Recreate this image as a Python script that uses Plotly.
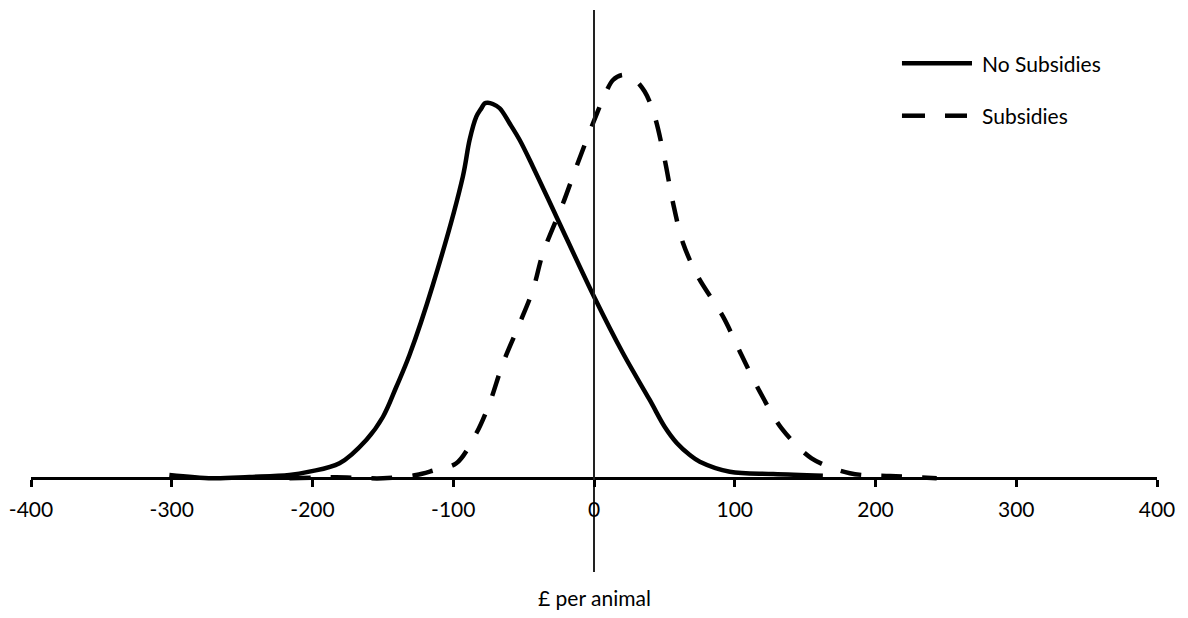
import plotly.graph_objects as go

# ---- data (x in £ per animal, y = density) ----
no_sub_x = [-301.7, -271.1, -244.8, -216.4, -202.2, -180.8, -161.8, -150.0, -140.5,
            -131.1, -114.5, -93.2, -88.4, -83.6, -80.0, -77.7, -75.4, -71.9, -67.0,
            -60.0, -52.8, -43.4, -26.7, 0.5, 20.6, 39.6, 50.3, 58.8, 68.1, 75.2,
            96.5, 127.3, 162.6]
no_sub_y = [0.000064, -0.00002, 0.000013, 0.000064, 0.00015, 0.000365, 0.000963,
            0.001553, 0.002323, 0.003144, 0.004941, 0.007721, 0.008663, 0.009261,
            0.009478, 0.009606, 0.00962, 0.009588, 0.009478, 0.009092, 0.008663,
            0.007978, 0.006695, 0.004607, 0.003188, 0.00199, 0.001296, 0.000886,
            0.000578, 0.000406, 0.000149, 0.00009, 0.000046]

sub_x = [-216.4, -183.2, -150.0, -126.3, -114.5, -97.8, -83.6, -74.2, -64.7, -52.8,
         -43.4, -36.3, -22.0, -12.5, -0.7, 7.6, 13.5, 20.0, 26.6, 36.1, 43.2, 50.3,
         56.2, 63.3, 73.9, 91.7, 104.8, 117.8, 133.3, 154.6, 181.8, 210.3, 243.5]
sub_y = [-0.00002, 0.000005, -0.00002, 0.000064, 0.000175, 0.000365, 0.001135,
         0.001905, 0.002931, 0.003958, 0.004813, 0.005755, 0.007038, 0.007978,
         0.009092, 0.009818, 0.010203, 0.010332, 0.010288, 0.009903, 0.009261,
         0.00815, 0.007038, 0.006012, 0.005155, 0.004128, 0.003144, 0.002203,
         0.001263, 0.000493, 0.000108, 0.000039, -0.00002]

tick_vals = [-400, -300, -200, -100, 0, 100, 200, 300, 400]
tick_text = ["-400", "-300", "-200", "-100", "0", "100", "200", "300", "400"]
series_names = ["No Subsidies", "Subsidies"]

Y_MAX = 0.012
Y_MIN = -Y_MAX * 94.5 / 467.5
FONT = "Lato"
FS = 21

fig = go.Figure()
fig.add_trace(go.Scatter(x=no_sub_x, y=no_sub_y, mode="lines", name=series_names[0],
                         line=dict(color="black", width=4.5, shape="spline", smoothing=1.0),
                         showlegend=False))
fig.add_trace(go.Scatter(x=sub_x, y=sub_y, mode="lines", name=series_names[1],
                         line=dict(color="black", width=4.5, shape="spline", smoothing=0.9,
                                   dash="21px,20px"),
                         showlegend=False))

zero_frac = (0 - Y_MIN) / (Y_MAX - Y_MIN)

fig.update_layout(
    width=1188, height=618,
    margin=dict(l=31, r=31, t=10, b=46),
    paper_bgcolor="white", plot_bgcolor="white",
    font=dict(family=FONT, size=FS, color="black"),
    xaxis=dict(range=[-400, 400], tickvals=tick_vals, ticktext=tick_text,
               showgrid=False, zeroline=False, showline=True, linecolor="black",
               linewidth=3, ticks="outside", ticklen=7, tickwidth=3, tickcolor="black",
               ticklabelstandoff=5,
               anchor="free", position=zero_frac,
               tickfont=dict(family=FONT, size=FS, color="black")),
    yaxis=dict(range=[Y_MIN, Y_MAX], showgrid=False, zeroline=False, showline=True,
               linecolor="#222222", linewidth=1.5, showticklabels=False, ticks="",
               anchor="free", position=0.5),
)

# x axis title below plot area
fig.add_annotation(text="£ per animal", xref="paper", yref="paper", x=0.5, y=-0.0445,
                   xanchor="center", yanchor="middle", showarrow=False,
                   font=dict(family=FONT, size=FS, color="black"))

# manual legend
lx0, lx1, ltx = 0.7735, 0.8357, 0.8428
ly1, ly2 = 0.9052, 0.8119
fig.add_shape(type="line", xref="paper", yref="paper", x0=lx0, x1=lx1, y0=ly1, y1=ly1,
              line=dict(color="black", width=4.5))
fig.add_shape(type="line", xref="paper", yref="paper", x0=lx0, x1=(925 - 31) / 1126,
              y0=ly2, y1=ly2, line=dict(color="black", width=4.5))
fig.add_shape(type="line", xref="paper", yref="paper", x0=(945 - 31) / 1126,
              x1=(967 - 31) / 1126, y0=ly2, y1=ly2, line=dict(color="black", width=4.5))
fig.add_annotation(text=series_names[0], xref="paper", yref="paper", x=ltx, y=ly1,
                   xanchor="left", yanchor="middle", showarrow=False,
                   font=dict(family=FONT, size=FS, color="black"))
fig.add_annotation(text=series_names[1], xref="paper", yref="paper", x=ltx, y=ly2,
                   xanchor="left", yanchor="middle", showarrow=False,
                   font=dict(family=FONT, size=FS, color="black"))

fig.write_html("out.html")
